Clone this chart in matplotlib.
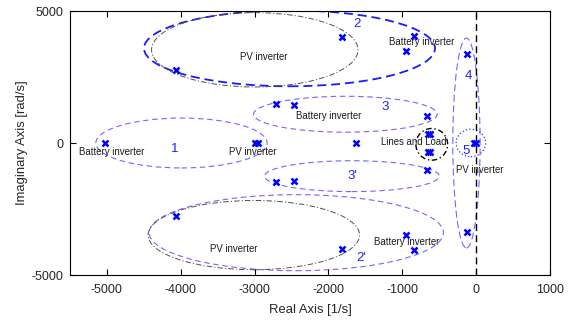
"""Pole map with grouped oscillation modes (inverters, lines and load)."""

import matplotlib
matplotlib.use("Agg")
import matplotlib.pyplot as plt
from matplotlib.patches import Ellipse

plt.rcParams["font.family"] = ["Liberation Sans", "DejaVu Sans"]
plt.rcParams["lines.scale_dashes"] = False
plt.rcParams["axes.unicode_minus"] = False

# pole locations (real, imag); repeated entries are near-coincident poles
pole_re = [-5030, -2990, -2950, -1620, -650, -620, -650, -620, -25, 5,
           -4060, -4060, -1810, -1810, -845, -845, -948, -948, -120, -120,
           -2716, -2716, -2465, -2465, -662, -662]
pole_im = [0, 0, 0, 0, 330, 330, -330, -330, 0, 0,
           2750, -2750, 4025, -4025, 4070, -4070, 3485, -3485, 3385, -3385,
           1495, -1495, 1457, -1457, 1015, -1015]

# grouping ellipses: centre x, centre y, width, height, style key
ell_cx = [-3990, -2527, -2435, -2997, -3010, -1770, -1682, -130, -70, -600]
ell_cy = [0, 3587, -3397, 3530, -3488, 1090, -1256, 0, 0, -50]
ell_w = [2320, 3942, 3986, 2797, 2865, 2486, 2365, 370, 400, 430]
ell_h = [1890, 2876, 2880, 2816, 2624, 1360, 1170, 7950, 1040, 1200]
ell_kind = ["light", "bold", "light", "gray", "gray", "light", "light",
            "light4", "dotted", "load"]

# mode numbers
num_text = ["1", "2", "2'", "3", "3'", "4", "5"]
num_x = [-4080, -1612, -1554, -1230, -1680, -108, -135]
num_y = [-240, 4495, -4360, 1350, -1260, 2530, -310]

# source annotations
src_text = ["PV inverter", "Battery inverter", "Battery inverter", "PV inverter",
            "Battery inverter", "Lines and Load", "PV inverter",
            "PV inverter", "Battery inverter"]
src_x = [-2874, -730, -1990, -3030, -4930, -850, 50, -3280, -937]
src_y = [3268, 3840, 1010, -350, -350, 30, -1030, -4018, -3742]

styles = {
    "light": dict(edgecolor="#6a6aff", lw=0.8, ls=(0, (4.0, 2.6))),
    "light4": dict(edgecolor="#6a6aff", lw=0.8, ls=(0, (5.0, 2.6))),
    "bold": dict(edgecolor="#1a1aff", lw=1.3, ls=(0, (6.5, 3.5))),
    "gray": dict(edgecolor="#505050", lw=0.7, ls=(0, (4.0, 1.5, 0.8, 1.5))),
    "dotted": dict(edgecolor="#3030ff", lw=0.9, ls=(0, (0.9, 1.6))),
    "load": dict(edgecolor="black", lw=1.0, ls=(0, (4.0, 2.0, 1.0, 2.0))),
}

fig = plt.figure(figsize=(5.71, 3.2), dpi=100)
ax = fig.add_axes([0.1226, 0.1406, 0.8404, 0.825])

for cx, cy, w, h, kind in zip(ell_cx, ell_cy, ell_w, ell_h, ell_kind):
    ax.add_patch(Ellipse((cx, cy), w, h, facecolor="none", **styles[kind]))

ax.axvline(0, color="black", lw=1.0, ls=(0, (5, 3)))
ax.plot(pole_re, pole_im, ls="none", marker="x", color="#0000ff",
        ms=4.2, mew=1.8)

for t, x, y in zip(num_text, num_x, num_y):
    ax.text(x, y, t, color="#2020ff", fontsize=9.5, ha="center", va="center")
for t, x, y in zip(src_text, src_x, src_y):
    ax.text(x, y, t, color="#1a1a1a", fontsize=6.9, ha="center", va="center")

ax.set_xlim(-5500, 1000)
ax.set_ylim(-5000, 5000)
ax.set_xticks([-5000, -4000, -3000, -2000, -1000, 0, 1000])
ax.set_yticks([-5000, 0, 5000])
ax.tick_params(direction="in", top=True, right=True, length=4, width=0.8,
               labelsize=9, labelcolor="#262626", pad=4.5)
ax.tick_params(axis="x", pad=6.5)
for sp in ax.spines.values():
    sp.set_linewidth(0.8)
ax.set_xlabel("Real Axis [1/s]", fontsize=9.4, color="#262626", labelpad=6)
ax.set_ylabel("Imaginary Axis [rad/s]", fontsize=9.4, color="#262626",
              labelpad=3)

fig.savefig("out.png", dpi=100)
